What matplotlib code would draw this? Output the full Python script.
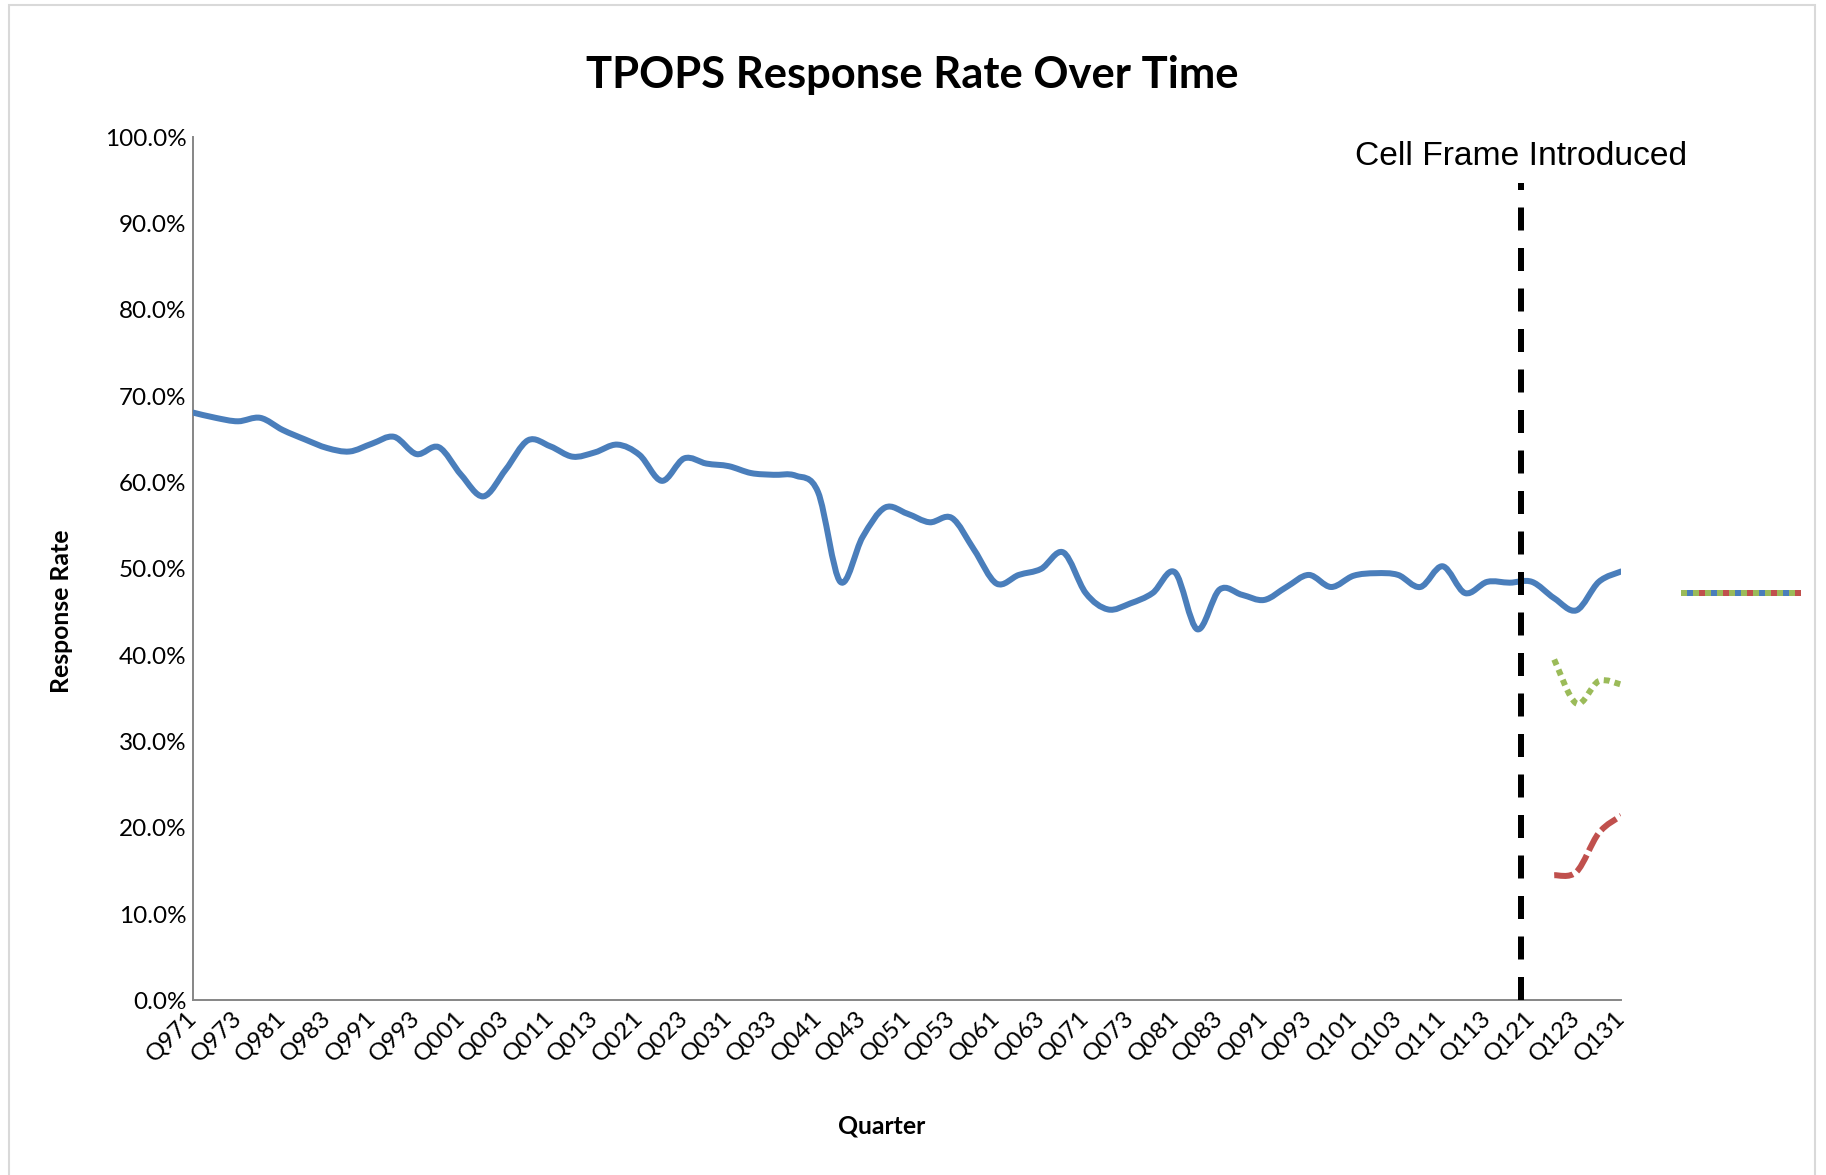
import numpy as np
import matplotlib
matplotlib.use("Agg")
import matplotlib.pyplot as plt
from matplotlib.path import Path
from matplotlib.patches import PathPatch, Rectangle
from matplotlib.lines import Line2D
from matplotlib.legend_handler import HandlerTuple
from matplotlib.ticker import PercentFormatter

# quarters Q971 .. Q131
quarters = [f"Q{y % 100:02d}{q}" for y in range(1997, 2014) for q in range(1, 5)][:65]

# response rate (%)
overall = [68.1, 67.5, 67.1, 67.5, 66.1, 65.0, 64.0, 63.6, 64.5, 65.3,
           63.3, 64.1, 60.9, 58.4, 61.5, 64.9, 64.2, 63.0, 63.5, 64.4,
           63.2, 60.2, 62.8, 62.2, 61.9, 61.1, 60.9, 60.8, 58.9, 48.5,
           53.7, 57.1, 56.4, 55.4, 55.9, 52.2, 48.3, 49.3, 50.0, 51.9,
           47.2, 45.3, 46.0, 47.2, 49.6, 43.0, 47.6, 47.0, 46.4, 47.9,
           49.3, 47.9, 49.2, 49.5, 49.3, 47.9, 50.3, 47.2, 48.5, 48.4,
           48.5, 46.6, 45.2, 48.5, 49.7]

# the two cell frame series, Q122 .. Q131
frame_quarters = ["Q122", "Q123", "Q124", "Q131"]
frame_green = [39.5, 34.4, 37.0, 36.6]
frame_red = [14.5, 14.9, 19.4, 21.4]

cutover = 59.53  # Cell Frame introduced (between Q114 and Q121)

BLUE = "#4a7ebb"
RED = "#c0504d"
GREEN = "#9bbb59"
PX = 0.72  # points per pixel at dpi 100

plt.rcParams["lines.scale_dashes"] = False
plt.rcParams["font.family"] = ["Lato", "DejaVu Sans"]


def smooth_path(x, y):
    # excel style smoothed line: cubic bezier through every point
    x = np.asarray(x, float)
    y = np.asarray(y, float)
    px = np.r_[x[0], x, x[-1]]
    py = np.r_[y[0], y, y[-1]]
    verts = [(x[0], y[0])]
    codes = [Path.MOVETO]
    for i in range(1, len(x)):
        c1 = (px[i] + (px[i + 1] - px[i - 1]) / 6, py[i] + (py[i + 1] - py[i - 1]) / 6)
        c2 = (px[i + 1] - (px[i + 2] - px[i]) / 6, py[i + 1] - (py[i + 2] - py[i]) / 6)
        verts += [c1, c2, (px[i + 1], py[i + 1])]
        codes += [Path.CURVE4] * 3
    return Path(verts, codes)


fig = plt.figure(figsize=(18.26, 11.75), dpi=100)
ax = fig.add_axes([0.1059, 0.1486, 0.7819, 0.7345])

x_all = np.arange(len(quarters))
y_all = np.array(overall) / 100
ax.add_patch(PathPatch(smooth_path(x_all, y_all), fill=False, edgecolor=BLUE,
                       lw=6 * PX, capstyle="round", joinstyle="round", zorder=3))

x_frame = [quarters.index(q) for q in frame_quarters]
ax.add_patch(PathPatch(smooth_path(x_frame, np.array(frame_green) / 100), fill=False,
                       edgecolor=GREEN, lw=6 * PX, capstyle="butt",
                       linestyle=(0, (6 * PX, 5 * PX)), zorder=3))
ax.add_patch(PathPatch(smooth_path(x_frame, np.array(frame_red) / 100), fill=False,
                       edgecolor=RED, lw=6 * PX, capstyle="butt",
                       linestyle=(0, (19 * PX, 5 * PX)), zorder=3))

ax.axvline(cutover, ymin=0, ymax=0.947, color="black", lw=6 * PX,
           linestyle=(0, (23 * PX, 17.5 * PX)), zorder=4)
ax.text(cutover, 0.968, "Cell Frame Introduced", ha="center", va="baseline",
        fontsize=24.2, family=["Liberation Sans", "DejaVu Sans"])

ax.set_xlim(0, len(quarters) - 1)
ax.set_ylim(0, 1)
ax.set_yticks(np.arange(0, 1.01, 0.1))
ax.yaxis.set_major_formatter(PercentFormatter(1.0, decimals=1))
ax.set_xticks(x_all[::2])
ax.set_xticklabels(quarters[::2], rotation=45, ha="right", va="center",
                   rotation_mode="anchor")
ax.tick_params(axis="both", length=0, labelsize=17.5)
ax.tick_params(axis="y", pad=5)
ax.tick_params(axis="x", pad=10)

for s in ["top", "right"]:
    ax.spines[s].set_visible(False)
for s in ["left", "bottom"]:
    ax.spines[s].set_color("#868686")
    ax.spines[s].set_linewidth(1.4)

# legend swatch with no text, as in the original sheet
h_blue = Line2D([], [], color=BLUE, lw=6 * PX, solid_capstyle="butt")
h_red = Line2D([], [], color=RED, lw=6 * PX, dash_capstyle="butt",
               linestyle=(6 * PX, (6 * PX, 18 * PX)))
h_green = Line2D([], [], color=GREEN, lw=6 * PX, dash_capstyle="butt",
                 linestyle=(0, (6 * PX, 6 * PX)))
ax.legend([(h_blue, h_red, h_green)], [""],
          handler_map={tuple: HandlerTuple(ndivide=1, pad=0)},
          loc="center left", bbox_to_anchor=(1.0419, 0.471), frameon=False,
          borderaxespad=0, borderpad=0, handletextpad=0, fontsize=10,
          handlelength=120 * PX / 10)

fig.text(0.4997, 0.9247, "TPOPS Response Rate Over Time", ha="center",
         va="baseline", fontsize=31.3, fontweight="bold")
fig.text(0.4828, 0.035, "Quarter", ha="center", va="baseline",
         fontsize=17.8, fontweight="bold")
fig.text(0.0338, 0.4797, "Response Rate", ha="center", va="center",
         rotation=90, fontsize=17.8, fontweight="bold")

fig.patches.append(Rectangle((0.0049, -0.01), 0.9891, 1.0057, fill=False,
                             edgecolor="#d9d9d9", lw=1.5,
                             transform=fig.transFigure))

fig.savefig("out.png", dpi=100)
